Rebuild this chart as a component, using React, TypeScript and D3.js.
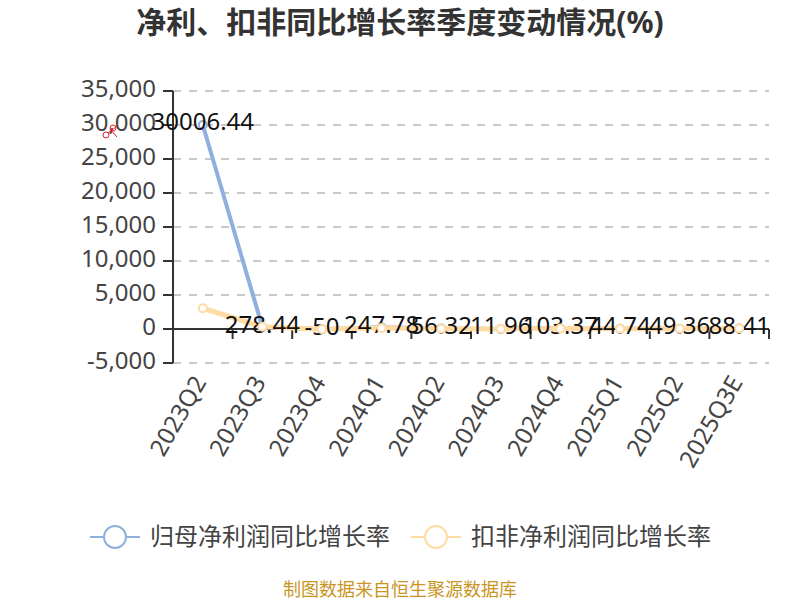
import React from "react";
import * as d3 from "d3";

const categories = ["2023Q2","2023Q3","2023Q4","2024Q1","2024Q2","2024Q3","2024Q4","2025Q1","2025Q2","2025Q3E"];
const netProfitGrowth = [30006.44,278.44,-50,247.78,56.32,11.96,103.37,44.74,49.36,88.41];
const deductedGrowth = [3050,330,-40,160,30,15,90,40,50,70];
const yTicks = [35000,30000,25000,20000,15000,10000,5000,0,-5000];
const legendNames = ["归母净利润同比增长率","扣非净利润同比增长率"];
const titleText = "净利、扣非同比增长率季度变动情况(%)";
const footerText = "制图数据来自恒生聚源数据库";

const BLUE = "#8fb0dd";
const ORANGE = "#ffdba6";
const AXIS = "#333333";
const LABEL = "#444444";
const FONT = "'Noto Sans','Noto Sans CJK SC',sans-serif";

const x = d3.scaleBand<string>().domain(categories).range([173, 769]);
const y = d3.scaleLinear().domain([-5000, 35000]).range([363, 91]);
const cx = (c: string) => (x(c) as number) + x.bandwidth() / 2;
const fmt = (t: number) => d3.format(",")(t).replace("\u2212", "-");

function SeriesLine({ values, color, width }: { values: number[]; color: string; width: number }) {
  const line = d3.line<number>().x((_, i) => cx(categories[i])).y((d) => y(d));
  return <path d={line(values) as string} fill="none" stroke={color} strokeWidth={width} strokeLinejoin="round" />;
}

function Markers({ values, color }: { values: number[]; color: string }) {
  return (
    <g>
      {values.map((v, i) => (
        <circle key={i} cx={cx(categories[i])} cy={y(v)} r={4} fill="#fff" stroke={color} strokeWidth={2} />
      ))}
    </g>
  );
}

function Legend({ left, color, text }: { left: number; color: string; text: string }) {
  return (
    <g>
      <line x1={left} x2={left + 50} y1={537} y2={537} stroke={color} strokeWidth={2} />
      <circle cx={left + 25} cy={537} r={11} fill="#fff" stroke={color} strokeWidth={2} />
      <text x={left + 60} y={537} dy="0.35em" fontSize={24} fill={LABEL}>{text}</text>
    </g>
  );
}

export default function App() {
  const zero = y(0);
  return (
    <svg width={800} height={600} viewBox="0 0 800 600" fontFamily={FONT}
      style={{ position: "fixed", left: 0, top: 0, background: "#fff" }}>
      <text x={400} y={22} dy="0.35em" textAnchor="middle" fontSize={30} fontWeight={700} fill={AXIS}>{titleText}</text>

      {yTicks.filter((t) => t !== 0).map((t) => (
        <line key={t} x1={173} x2={769} y1={y(t)} y2={y(t)} stroke="#c8c8c8" strokeWidth={2} strokeDasharray="8 8" />
      ))}

      <line x1={173} x2={173} y1={y(35000)} y2={y(-5000)} stroke={AXIS} strokeWidth={2} />
      {yTicks.map((t) => (
        <g key={t}>
          <line x1={163} x2={173} y1={y(t)} y2={y(t)} stroke={AXIS} strokeWidth={2} />
          <text x={156} y={y(t) - 2.5} dy="0.35em" textAnchor="end" fontSize={24} fill={LABEL}>{fmt(t)}</text>
        </g>
      ))}

      <line x1={173} x2={769} y1={zero} y2={zero} stroke={AXIS} strokeWidth={2} />
      {categories.map((c) => {
        const tx = (x(c) as number) + x.bandwidth();
        return <line key={c} x1={tx} x2={tx} y1={zero} y2={zero + 10} stroke={AXIS} strokeWidth={2} />;
      })}
      {categories.map((c) => (
        <text key={c} transform={`translate(${cx(c) - 3},${zero + 49}) rotate(-60)`} textAnchor="end" dy="0.35em" fontSize={24} fill={LABEL}>{c}</text>
      ))}

      <SeriesLine values={netProfitGrowth} color={BLUE} width={4} />
      <Markers values={netProfitGrowth} color={BLUE} />
      <SeriesLine values={deductedGrowth} color={ORANGE} width={5} />

      {netProfitGrowth.map((v, i) => (
        <text key={i} x={cx(categories[i])} y={y(v) - 3} textAnchor="middle" dy="0.35em" fontSize={24} fill="#111">{v}</text>
      ))}

      <Markers values={deductedGrowth} color={ORANGE} />

      <g fill="none" stroke="#f02028" strokeWidth={1}>
        <circle cx={106} cy={135} r={3} />
        <circle cx={113} cy={128} r={3} />
        <line x1={108} y1={133} x2={117} y2={126} />
        <line x1={110} y1={129} x2={117} y2={137} />
      </g>

      <Legend left={90} color={BLUE} text={legendNames[0]} />
      <Legend left={411} color={ORANGE} text={legendNames[1]} />

      <text x={400} y={590} dy="0.35em" textAnchor="middle" fontSize={18} fill="#c9951f">{footerText}</text>
    </svg>
  );
}
